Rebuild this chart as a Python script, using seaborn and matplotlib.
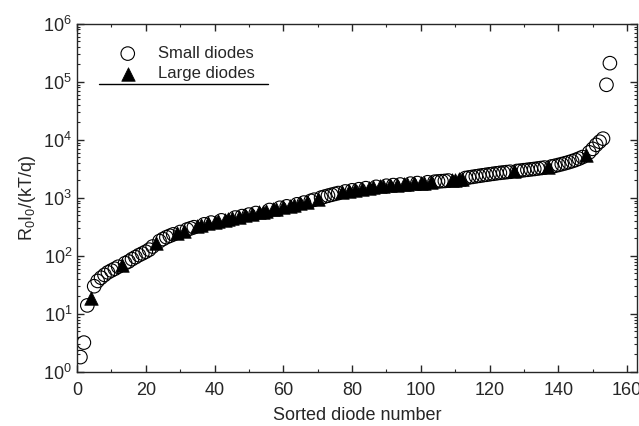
import matplotlib
matplotlib.use("Agg")
import matplotlib.pyplot as plt
import numpy as np
import pandas as pd
import seaborn as sns
from matplotlib.ticker import MultipleLocator, LogLocator, NullFormatter

# R0*I0/(kT/q) for each sorted diode, index 1..155
ratio = [
    1.8, 3.2, 14, 19, 30, 37, 42, 47, 52, 56,
    60, 65, 70, 75, 80, 88, 95, 103, 110, 118,
    128, 145, 165, 180, 195, 210, 222, 235, 248, 258,
    270, 285, 298, 312, 325, 338, 350, 362, 375, 385,
    398, 410, 420, 432, 445, 458, 470, 485, 500, 515,
    530, 548, 565, 582, 600, 618, 635, 655, 675, 695,
    715, 735, 755, 775, 800, 830, 860, 890, 930, 970,
    1010, 1050, 1090, 1130, 1170, 1210, 1250, 1290, 1320, 1350,
    1380, 1410, 1440, 1470, 1500, 1525, 1550, 1575, 1600, 1620,
    1640, 1660, 1680, 1700, 1720, 1740, 1760, 1780, 1800, 1820,
    1840, 1860, 1880, 1900, 1920, 1940, 1960, 1990, 2020, 2050,
    2100, 2150, 2200, 2250, 2300, 2350, 2400, 2450, 2500, 2550,
    2600, 2650, 2700, 2740, 2780, 2820, 2870, 2910, 2950, 3000,
    3050, 3100, 3150, 3210, 3270, 3330, 3400, 3480, 3570, 3690,
    3820, 3960, 4120, 4300, 4500, 4750, 5050, 5450, 6100, 7000,
    8200, 9300, 10500, 89000, 210000,
]
large_ids = [
    4, 13, 23, 29, 31, 35, 36, 38, 40, 41, 43, 44, 45, 47, 49, 51, 53, 54,
    55, 57, 58, 60, 62, 63, 65, 67, 70, 77, 79, 81, 83, 85, 86, 88, 89, 91,
    93, 95, 96, 98, 100, 101, 103, 109, 110, 111, 112, 127, 137, 148,
]

df = pd.DataFrame({"n": np.arange(1, len(ratio) + 1), "ratio": ratio})
df["kind"] = np.where(df["n"].isin(large_ids), "Large diodes", "Small diodes")
small = df[df["kind"] == "Small diodes"]
large = df[df["kind"] == "Large diodes"]

sns.set_style("ticks")
plt.rcParams["font.family"] = ["Liberation Sans", "DejaVu Sans"]
plt.rcParams["mathtext.fontset"] = "custom"
plt.rcParams["mathtext.rm"] = "Liberation Sans"
plt.rcParams["mathtext.it"] = "Liberation Sans:italic"

fig = plt.figure(figsize=(6.39, 4.26), dpi=100)
ax = fig.add_axes([0.1205, 0.127, 0.877, 0.817])

sns.scatterplot(data=small, x="n", y="ratio", marker="o", s=95,
                facecolors="none", edgecolors="black", linewidth=0.8,
                label="Small diodes", ax=ax, zorder=2)
sns.scatterplot(data=large, x="n", y="ratio", marker="^", s=95,
                color="black", edgecolor="black", linewidth=0.5,
                label="Large diodes", ax=ax, zorder=3)

ax.set_yscale("log")
ax.set_ylim(1, 1e6)
ax.set_xlim(0, 163)
ax.xaxis.set_major_locator(MultipleLocator(20))
ax.xaxis.set_minor_locator(MultipleLocator(10))
ax.yaxis.set_major_locator(LogLocator(base=10, numticks=10))
ax.yaxis.set_minor_locator(LogLocator(base=10, subs=np.arange(2, 10), numticks=20))
ax.yaxis.set_minor_formatter(NullFormatter())
ax.tick_params(which="both", direction="in", top=True, right=True, labelsize=13)
ax.tick_params(axis="x", which="major", pad=7)
ax.tick_params(which="major", length=5, width=1)
ax.tick_params(which="minor", length=2.5, width=0.8)
for sp in ax.spines.values():
    sp.set_linewidth(1)

ax.set_xlabel("Sorted diode number", fontsize=13, labelpad=6)
ax.set_ylabel(r"R$_0$I$_0$/(kT/q)", fontsize=13)

leg = ax.legend(loc="upper left", bbox_to_anchor=(0.04, 0.97), frameon=False,
                fontsize=12, handletextpad=0.8, borderpad=0.2, labelspacing=0.3)
ax.plot([0.04, 0.34], [0.828, 0.828], transform=ax.transAxes,
        color="black", linewidth=1)

fig.savefig("out.png", dpi=100)
